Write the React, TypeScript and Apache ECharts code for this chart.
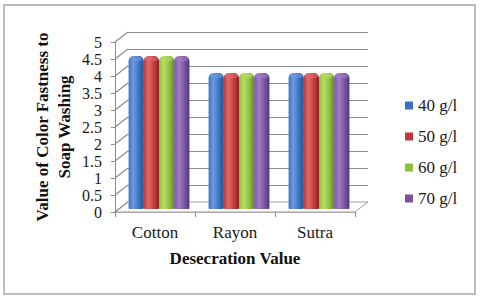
import React, { useEffect, useRef } from "react";
import * as echarts from "echarts";

const categories = ["Cotton", "Rayon", "Sutra"];
const seriesNames = ["40 g/l", "50 g/l", "60 g/l", "70 g/l"];
const values40 = [4.5, 4, 4];
const values50 = [4.5, 4, 4];
const values60 = [4.5, 4, 4];
const values70 = [4.5, 4, 4];
const yTicks = [0, 0.5, 1, 1.5, 2, 2.5, 3, 3.5, 4, 4.5, 5];

const seriesValues = [values40, values50, values60, values70];
const baseColors = ["#3a72c0", "#c0393a", "#8fbd3e", "#7a52a1"];
const lightColors = ["#6c9be0", "#e06a68", "#b5dc6a", "#a07cc6"];
const darkColors = ["#24508e", "#8c2426", "#628a26", "#523475"];

const FONT = "Liberation Serif";
const DX = 13;
const DY = -10;
const BDX = 4;
const BDY = -3;

export default function App() {
  const ref = useRef<HTMLDivElement>(null);
  useEffect(() => {
    if (!ref.current) return;
    const chart = echarts.init(ref.current, null, { renderer: "svg" });

    const barSeries = seriesNames.map((name, si) => ({
      name,
      type: "custom",
      xAxisIndex: 0,
      yAxisIndex: 0,
      z: 5,
      itemStyle: { color: baseColors[si] },
      data: seriesValues[si].map((v, i) => [i, v]),
      encode: { x: 0, y: 1 },
      renderItem: (params: any, api: any) => {
        const idx = api.value(0);
        const val = api.value(1);
        const base = api.coord([idx, 0]);
        const top = api.coord([idx, val]);
        const band = api.size([1, 0])[0];
        const groupW = band * 0.76;
        const bw = groupW / 4;
        const x = base[0] - groupW / 2 + si * bw + BDX;
        const yb = base[1] + BDY;
        const yt = top[1] + BDY;
        const grad = new echarts.graphic.LinearGradient(0, 0, 1, 0, [
          { offset: 0, color: baseColors[si] },
          { offset: 0.3, color: lightColors[si] },
          { offset: 0.7, color: baseColors[si] },
          { offset: 1, color: darkColors[si] },
        ]);
        return {
          type: "group",
          children: [
            {
              type: "rect",
              shape: { x, y: yt, width: bw, height: yb - yt, r: [5, 5, 1, 1] },
              style: { fill: grad },
            },
            {
              type: "ellipse",
              shape: { cx: x + bw / 2, cy: yt + 3, rx: bw / 2 - 1, ry: 2.5 },
              style: { fill: lightColors[si], opacity: 0.6 },
            },
          ],
        };
      },
    }));

    const option: any = {
      animation: false,
      graphic: [
        {
          type: "rect",
          shape: { x: 4, y: 5, width: 471, height: 289 },
          style: { fill: "none", stroke: "#a8a8a8", lineWidth: 1.5 },
          z: 0,
        },
      ],
      legend: {
        data: seriesNames,
        orient: "vertical",
        left: 405,
        top: 97,
        padding: 0,
        icon: "rect",
        itemWidth: 8,
        itemHeight: 8,
        itemGap: 14,
        textStyle: { fontFamily: FONT, fontSize: 17, color: "#1a1a1a" },
      },
      grid: [
        { left: 115, right: 125, top: 42, bottom: 88 },
        { left: 115 + DX, right: 125 - DX, top: 42 + DY, bottom: 88 - DY },
      ],
      xAxis: [
        {
          type: "category",
          gridIndex: 0,
          data: categories,
          axisLine: { show: true, lineStyle: { color: "#a0a0a0", width: 1.5 } },
          axisTick: { show: true, length: 5, lineStyle: { color: "#8c8c8c" } },
          axisLabel: { fontFamily: FONT, fontSize: 17, color: "#1a1a1a", margin: 12 },
          name: "Desecration Value",
          nameLocation: "middle",
          nameGap: 38,
          nameTextStyle: { fontFamily: FONT, fontSize: 17, fontWeight: "bold", color: "#111" },
        },
        {
          type: "category",
          gridIndex: 1,
          data: categories,
          show: false,
        },
      ],
      yAxis: [
        {
          type: "value",
          gridIndex: 0,
          min: 0,
          max: 5,
          interval: 0.5,
          axisLine: { show: true, lineStyle: { color: "#8c8c8c" } },
          axisTick: { show: true, length: 4, lineStyle: { color: "#8c8c8c" } },
          axisLabel: { fontFamily: FONT, fontSize: 16, color: "#1a1a1a", margin: 13 },
          splitLine: { show: false },
          name: "Value of Color Fastness to\nSoap Washing",
          nameLocation: "middle",
          nameGap: 40,
          nameTextStyle: {
            fontFamily: FONT,
            fontSize: 17,
            fontWeight: "bold",
            color: "#111",
            lineHeight: 22,
          },
        },
        {
          type: "value",
          gridIndex: 1,
          min: 0,
          max: 5,
          interval: 0.5,
          axisLine: { show: false },
          axisTick: { show: false },
          axisLabel: { show: false },
          splitLine: { show: true, lineStyle: { color: "#8c8c8c", width: 1.2 } },
        },
      ],
      series: [
        {
          type: "custom",
          xAxisIndex: 0,
          yAxisIndex: 0,
          z: 1,
          silent: true,
          data: [[0, 0]],
          encode: { x: 0, y: 1 },
          renderItem: (params: any, api: any) => {
            const band = api.size([1, 0])[0];
            const l = api.coord([0, 0]);
            const r = api.coord([categories.length - 1, 0]);
            const x0 = l[0] - band / 2;
            const x1 = r[0] + band / 2;
            const y = l[1];
            return {
              type: "polygon",
              shape: {
                points: [
                  [x0, y],
                  [x1, y],
                  [x1 + DX, y + DY],
                  [x0 + DX, y + DY],
                ],
              },
              style: { fill: "#fcfcfc", stroke: "#a0a0a0", lineWidth: 1 },
            };
          },
        },
        {
          type: "custom",
          xAxisIndex: 0,
          yAxisIndex: 0,
          z: 1,
          silent: true,
          data: yTicks.map((v) => [0, v]),
          encode: { x: 0, y: 1 },
          renderItem: (params: any, api: any) => {
            const band = api.size([1, 0])[0];
            const p = api.coord([0, api.value(1)]);
            const x0 = p[0] - band / 2;
            return {
              type: "line",
              shape: { x1: x0, y1: p[1], x2: x0 + DX, y2: p[1] + DY },
              style: { stroke: "#8c8c8c", lineWidth: 1.2 },
            };
          },
        },
        ...barSeries,
      ],
    };
    chart.setOption(option);
    return () => chart.dispose();
  }, []);
  return <div ref={ref} style={{ width: 480, height: 300, position: "fixed", left: 0, top: 0, background: "#fff" }} />;
}
